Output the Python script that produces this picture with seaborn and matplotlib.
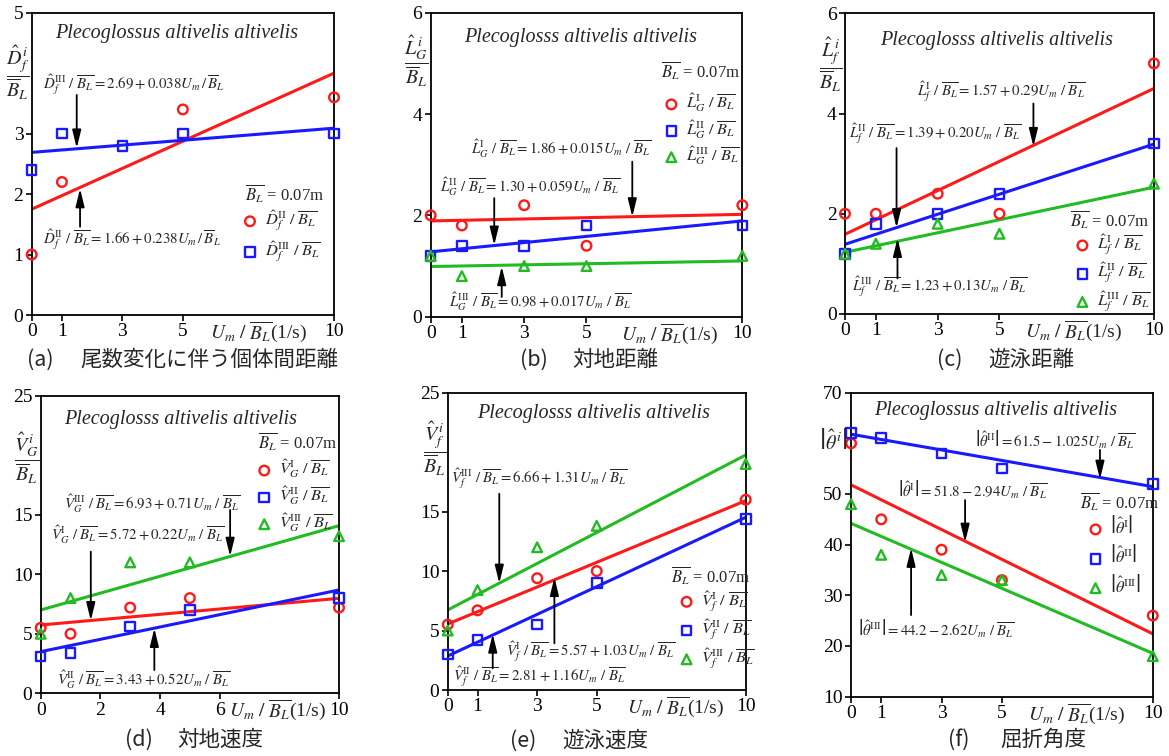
import numpy as np
import pandas as pd
import matplotlib
matplotlib.use("Agg")
import matplotlib.pyplot as plt
import seaborn as sns

sns.set_theme(style="ticks")
plt.rcParams['font.family'] = ['Liberation Serif', 'Noto Sans CJK JP', 'DejaVu Sans']
plt.rcParams['mathtext.fontset'] = 'stix'
plt.rcParams['axes.edgecolor'] = 'black'
plt.rcParams['xtick.color'] = 'black'
plt.rcParams['ytick.color'] = 'black'

# ---------------- data ----------------
x_std = [0, 1, 3, 5, 10]
x_fit = [0, 10]

# (a)
a_red_x = [0, 1, 5, 10]
a_red = [1.0, 2.2, 3.4, 3.6]
a_blue = [2.4, 3.0, 2.8, 3.0, 3.0]
a_fit_red = [1.75, 4.0]
a_fit_blue = [2.69, 3.09]
# (b)
b_red = [2.0, 1.8, 2.2, 1.4, 2.2]
b_blue = [1.2, 1.4, 1.4, 1.8, 1.8]
b_green = [1.2, 0.8, 1.0, 1.0, 1.2]
b_fit_red = [1.89, 2.02]
b_fit_blue = [1.28, 1.89]
b_fit_green = [0.99, 1.10]
# (c)
c_red = [2.0, 2.0, 2.4, 2.0, 5.0]
c_blue = [1.2, 1.8, 2.0, 2.4, 3.4]
c_green = [1.2, 1.4, 1.8, 1.6, 2.6]
c_fit_red = [1.59, 4.50]
c_fit_blue = [1.39, 3.39]
c_fit_green = [1.23, 2.53]
# (d)
d_red = [5.5, 5.0, 7.2, 8.0, 7.2]
d_blue = [3.1, 3.4, 5.6, 7.0, 8.0]
d_green = [5.0, 8.0, 11.0, 11.0, 13.2]
d_fit_red = [5.74, 7.98]
d_fit_blue = [3.50, 8.68]
d_fit_green = [7.00, 14.08]
# (e)
e_red = [5.5, 6.7, 9.4, 10.0, 16.0]
e_blue = [3.0, 4.2, 5.5, 9.0, 14.4]
e_green = [5.0, 8.4, 12.0, 13.8, 19.0]
e_fit_red = [5.55, 15.92]
e_fit_blue = [2.86, 14.52]
e_fit_green = [6.73, 19.76]
# (f)
f_red = [60.0, 45.0, 39.0, 33.0, 26.0]
f_blue = [62.0, 61.0, 58.0, 55.0, 52.0]
f_green = [48.0, 38.0, 34.0, 33.0, 18.0]
f_fit_red = [51.8, 22.4]
f_fit_blue = [61.8, 51.45]
f_fit_green = [44.2, 18.55]

species_a = 'Plecoglossus altivelis altivelis'
species_b = 'Plecoglosss altivelis altivelis'

RED, BLUE, GREEN = '#ff1a1a', '#1a1aff', '#22bb22'
MK = {'red': ('o', RED), 'blue': ('s', BLUE), 'green': ('^', GREEN)}
BL = r'\overline{B_L}'

panels = [
    dict(pos=[0.0271, 0.5833, 0.2586, 0.3999], ylim=(0, 5), yticks=[0, 1, 2, 3, 5], xticks=x_std,
         series=[('red', a_red_x, a_red, a_fit_red, r'$\hat{D}_f^{\mathrm{II}}\ /\ ' + BL + '$'),
                 ('blue', x_std, a_blue, a_fit_blue, r'$\hat{D}_f^{\mathrm{III}}\ /\ ' + BL + '$')],
         species=species_a, sp=(0.48, 0.93), ylab=r'$\dfrac{\hat{D}_f^{\,i}}{\overline{B}_L}$', ylp=(-0.045, 0.80),
         title=(0.706, 0.402), leg=(0.695, 0.261), lsp=0.38, xl=7.5,
         ann=[(r'$\hat{D}_f^{\mathrm{III}}\ /\ ' + BL + r' = 2.69 + 0.038U_m\,/\,\overline{B}_L$', (3.37, 3.80), (1.49, 3.64), (1.49, 2.76)),
              (r'$\hat{D}_f^{\mathrm{II}}\ /\ ' + BL + r' = 1.66 + 0.238U_m\,/\,\overline{B}_L$', (3.33, 1.25), (1.6, 1.46), (1.6, 2.09))],
         cap=('(a)', '尾数変化に伴う個体間距離'), cp=(27, 80, 360)),
    dict(pos=[0.3684, 0.5811, 0.2666, 0.4021], ylim=(0, 6), yticks=[0, 2, 4, 6], xticks=x_std,
         series=[('red', x_std, b_red, b_fit_red, r'$\hat{L}_G^{\mathrm{I}}\ /\ ' + BL + '$'),
                 ('blue', x_std, b_blue, b_fit_blue, r'$\hat{L}_G^{\mathrm{II}}\ /\ ' + BL + '$'),
                 ('green', x_std, b_green, b_fit_green, r'$\hat{L}_G^{\mathrm{III}}\ /\ ' + BL + '$')],
         species=species_b, sp=(0.48, 0.92), ylab=r'$\dfrac{\hat{L}_G^{\,i}}{\overline{B}_L}$', ylp=(-0.045, 0.84),
         title=(0.738, 0.808), leg=(0.746, 0.617), lsp=0.22, xl=7.68,
         ann=[(r'$\hat{L}_G^{\mathrm{I}}\ /\ ' + BL + r' = 1.86 + 0.015U_m\ /\ ' + BL + '$', (4.17, 3.32), (6.47, 3.06), (6.47, 1.97)),
              (r'$\hat{L}_G^{\mathrm{II}}\ /\ ' + BL + r' = 1.30 + 0.059U_m\ /\ ' + BL + '$', (3.2, 2.57), (2.04, 2.34), (2.04, 1.41)),
              (r'$\hat{L}_G^{\mathrm{III}}\ /\ ' + BL + r' = 0.98 + 0.017U_m\ /\ ' + BL + '$', (3.53, 0.30), (2.28, 0.39), (2.28, 0.99))],
         cap=('(b)', '対地距離'), cp=(520, 572, 360)),
    dict(pos=[0.7228, 0.5847, 0.2643, 0.3977], ylim=(0, 6), yticks=[0, 2, 4, 6], xticks=x_std,
         series=[('red', x_std, c_red, c_fit_red, r'$\hat{L}_f^{\mathrm{I}}\ /\ ' + BL + '$'),
                 ('blue', x_std, c_blue, c_fit_blue, r'$\hat{L}_f^{\mathrm{II}}\ /\ ' + BL + '$'),
                 ('green', x_std, c_green, c_fit_green, r'$\hat{L}_f^{\mathrm{III}}\ /\ ' + BL + '$')],
         species=species_b, sp=(0.49, 0.91), ylab=r'$\dfrac{\hat{L}_f^{\,i}}{\overline{B}_L}$', ylp=(-0.045, 0.83),
         title=(0.728, 0.312), leg=(0.742, 0.136), lsp=0.22, xl=7.39,
         ann=[(r'$\hat{L}_f^{\mathrm{I}}\ /\ ' + BL + r' = 1.57 + 0.29U_m\ /\ ' + BL + '$', (5.07, 4.44), (6.1, 4.2), (6.1, 3.34)),
              (r'$\hat{L}_f^{\mathrm{II}}\ /\ ' + BL + r' = 1.39 + 0.20U_m\ /\ ' + BL + '$', (2.91, 3.60), (1.67, 3.31), (1.67, 1.72)),
              (r'$\hat{L}_f^{\mathrm{III}}\ /\ ' + BL + r' = 1.23 + 0.13U_m\ /\ ' + BL + '$', (3.07, 0.55), (1.7, 0.71), (1.7, 1.51))],
         cap=('(c)', '遊泳距離'), cp=(937, 988, 360)),
    dict(pos=[0.0348, 0.0829, 0.2552, 0.3937], ylim=(0, 25), yticks=[0, 5, 10, 15, 25], xticks=[0, 2, 4, 6, 10],
         series=[('red', x_std, d_red, d_fit_red, r'$\hat{V}_G^{\mathrm{I}}\ /\ ' + BL + '$'),
                 ('blue', x_std, d_blue, d_fit_blue, r'$\hat{V}_G^{\mathrm{II}}\ /\ ' + BL + '$'),
                 ('green', x_std, d_green, d_fit_green, r'$\hat{V}_G^{\mathrm{III}}\ /\ ' + BL + '$')],
         species=species_b, sp=(0.47, 0.92), ylab=r'$\dfrac{\hat{V}_G^{\,i}}{\overline{B}_L}$', ylp=(-0.045, 0.79),
         title=(0.729, 0.845), leg=(0.722, 0.664), lsp=0.25, xl=7.95,
         ann=[(r'$\hat{V}_G^{\mathrm{III}}\ /\ ' + BL + r' = 6.93 + 0.71U_m\ /\ ' + BL + '$', (3.74, 15.96), (6.35, 15.4), (6.35, 11.5)),
              (r'$\hat{V}_G^{\mathrm{I}}\ /\ ' + BL + r' = 5.72 + 0.22U_m\ /\ ' + BL + '$', (3.24, 13.3), (1.68, 11.9), (1.68, 6.1)),
              (r'$\hat{V}_G^{\mathrm{II}}\ /\ ' + BL + r' = 3.43 + 0.52U_m\ /\ ' + BL + '$', (3.44, 1.12), (3.81, 1.96), (3.81, 5.46))],
         cap=('(d)', '対地速度'), cp=(125, 177, 740)),
    dict(pos=[0.3830, 0.0873, 0.2549, 0.3933], ylim=(0, 25), yticks=[0, 5, 10, 15, 25], xticks=x_std,
         series=[('red', x_std, e_red, e_fit_red, r'$\hat{V}_f^{\mathrm{I}}\ /\ ' + BL + '$'),
                 ('blue', x_std, e_blue, e_fit_blue, r'$\hat{V}_f^{\mathrm{II}}\ /\ ' + BL + '$'),
                 ('green', x_std, e_green, e_fit_green, r'$\hat{V}_f^{\mathrm{III}}\ /\ ' + BL + '$')],
         species=species_b, sp=(0.49, 0.93), ylab=r'$\dfrac{\hat{V}_f^{\,i}}{\overline{B}_L}$', ylp=(-0.045, 0.81),
         title=(0.749, 0.384), leg=(0.774, 0.202), lsp=0.25, xl=7.63,
         ann=[(r'$\hat{V}_f^{\mathrm{III}}\ /\ ' + BL + r' = 6.66 + 1.31U_m\ /\ ' + BL + '$', (3.08, 17.8), (1.73, 16.5), (1.73, 8.97)),
              (r'$\hat{V}_f^{\mathrm{I}}\ /\ ' + BL + r' = 5.57 + 1.03U_m\ /\ ' + BL + '$', (4.78, 3.22), (3.58, 3.92), (3.58, 9.47)),
              (r'$\hat{V}_f^{\mathrm{II}}\ /\ ' + BL + r' = 2.81 + 1.16U_m\ /\ ' + BL + '$', (3.08, 1.12), (1.51, 1.82), (1.51, 4.71))],
         cap=('(e)', '遊泳速度'), cp=(510, 562, 741)),
    dict(pos=[0.7280, 0.0785, 0.2581, 0.4021], ylim=(10, 70), yticks=[10, 20, 30, 40, 50, 70], xticks=x_std,
         series=[('red', x_std, f_red, f_fit_red, r'$\left|\hat{\theta}^{\mathrm{I}}\right|$'),
                 ('blue', x_std, f_blue, f_fit_blue, r'$\left|\hat{\theta}^{\mathrm{II}}\right|$'),
                 ('green', x_std, f_green, f_fit_green, r'$\left|\hat{\theta}^{\mathrm{III}}\right|$')],
         species=species_a, sp=(0.48, 0.94), ylab=r'$\left|\hat{\theta}^{\,i}\right|$', ylp=(-0.06, 0.84),
         title=(0.759, 0.642), leg=(0.783, 0.465), lsp=0.45, xl=7.48,
         ann=[(r'$\left|\hat{\theta}^{\mathrm{II}}\right| = 61.5 - 1.025U_m\ /\ ' + BL + '$', (6.76, 60.66), (8.25, 58.7), (8.25, 52.9)),
              (r'$\left|\hat{\theta}^{\mathrm{I}}\right| = 51.8 - 2.94U_m\ /\ ' + BL + '$', (4.02, 50.8), (3.78, 48.8), (3.78, 40.46)),
              (r'$\left|\hat{\theta}^{\mathrm{III}}\right| = 44.2 - 2.62U_m\ /\ ' + BL + '$', (2.81, 23.5), (1.99, 26.1), (1.99, 39.3))],
         cap=('(f)', '屈折角度'), cp=(948, 1000, 740)),
]

fig = plt.figure(figsize=(11.69, 7.56), dpi=100)
fig.patch.set_facecolor('white')
CJK = ['Noto Sans CJK JP', 'DejaVu Sans']

for p in panels:
    ax = fig.add_axes(p['pos'])
    ax.set_facecolor('white')
    for key, xs, ys, fit, lab in p['series']:
        marker, col = MK[key]
        sns.lineplot(x=x_fit, y=fit, color=col, lw=2.2, ax=ax, legend=False, errorbar=None, zorder=2)
    handles, labels = [], []
    for key, xs, ys, fit, lab in p['series']:
        marker, col = MK[key]
        df = pd.DataFrame({'x': xs, 'y': ys})
        sns.scatterplot(data=df, x='x', y='y', marker=marker, s=48, facecolor='none',
                        edgecolor=col, linewidth=1.7, ax=ax, zorder=3, clip_on=False)
        handles.append(ax.collections[-1])
        labels.append(lab)
    ax.set_xlim(0, 10)
    ax.set_ylim(*p['ylim'])
    ax.set_xticks(p['xticks'])
    ax.set_yticks(p['yticks'])
    ax.set_xlabel('')
    ax.set_ylabel('')
    ax.tick_params(direction='out', length=4, width=1.2, labelsize=14, pad=2)
    for s in ax.spines.values():
        s.set_visible(True)
        s.set_linewidth(1.3)
        s.set_color('black')
    ax.legend(handles, labels, loc='center left',
              bbox_to_anchor=p['leg'], frameon=False, fontsize=11.8,
              handletextpad=0.4, borderaxespad=0, borderpad=0, labelspacing=p['lsp'],
              handlelength=1.0, handleheight=0.5)
    ax.text(p['title'][0], p['title'][1], r'$\overline{B_L}$ = 0.07m', transform=ax.transAxes,
            ha='left', va='center', fontsize=12)
    ax.text(p['sp'][0], p['sp'][1], p['species'], transform=ax.transAxes, ha='center', va='center',
            fontstyle='italic', fontsize=14.5)
    ax.text(p['ylp'][0], p['ylp'][1], p['ylab'], transform=ax.transAxes, ha='center', va='center',
            fontsize=14.5)
    ax.annotate(r'$U_m\ /\ \overline{B_L}$(1/s)', xy=(p['xl'], 0), xycoords=('data', 'axes fraction'),
                xytext=(0, -3), textcoords='offset points', ha='center', va='top', fontsize=14)
    for txt, tpos, a0, a1 in p['ann']:
        ax.text(tpos[0], tpos[1], txt, ha='center', va='center', fontsize=10.7, zorder=4)
        ax.annotate('', xy=a1, xytext=a0,
                    arrowprops=dict(arrowstyle='-|>,head_width=0.22,head_length=0.9',
                                    color='black', lw=1.3, shrinkA=0, shrinkB=0), zorder=4)
    x_lab, x_cap, y_cap = p['cp']
    fig.text(x_lab / 1169, 1 - y_cap / 756, p['cap'][0], ha='left', va='center',
             fontsize=15.5, family=CJK)
    fig.text(x_cap / 1169, 1 - y_cap / 756, p['cap'][1], ha='left', va='center',
             fontsize=15.5, family=CJK)

fig.savefig('out.png', dpi=100, facecolor='white')
